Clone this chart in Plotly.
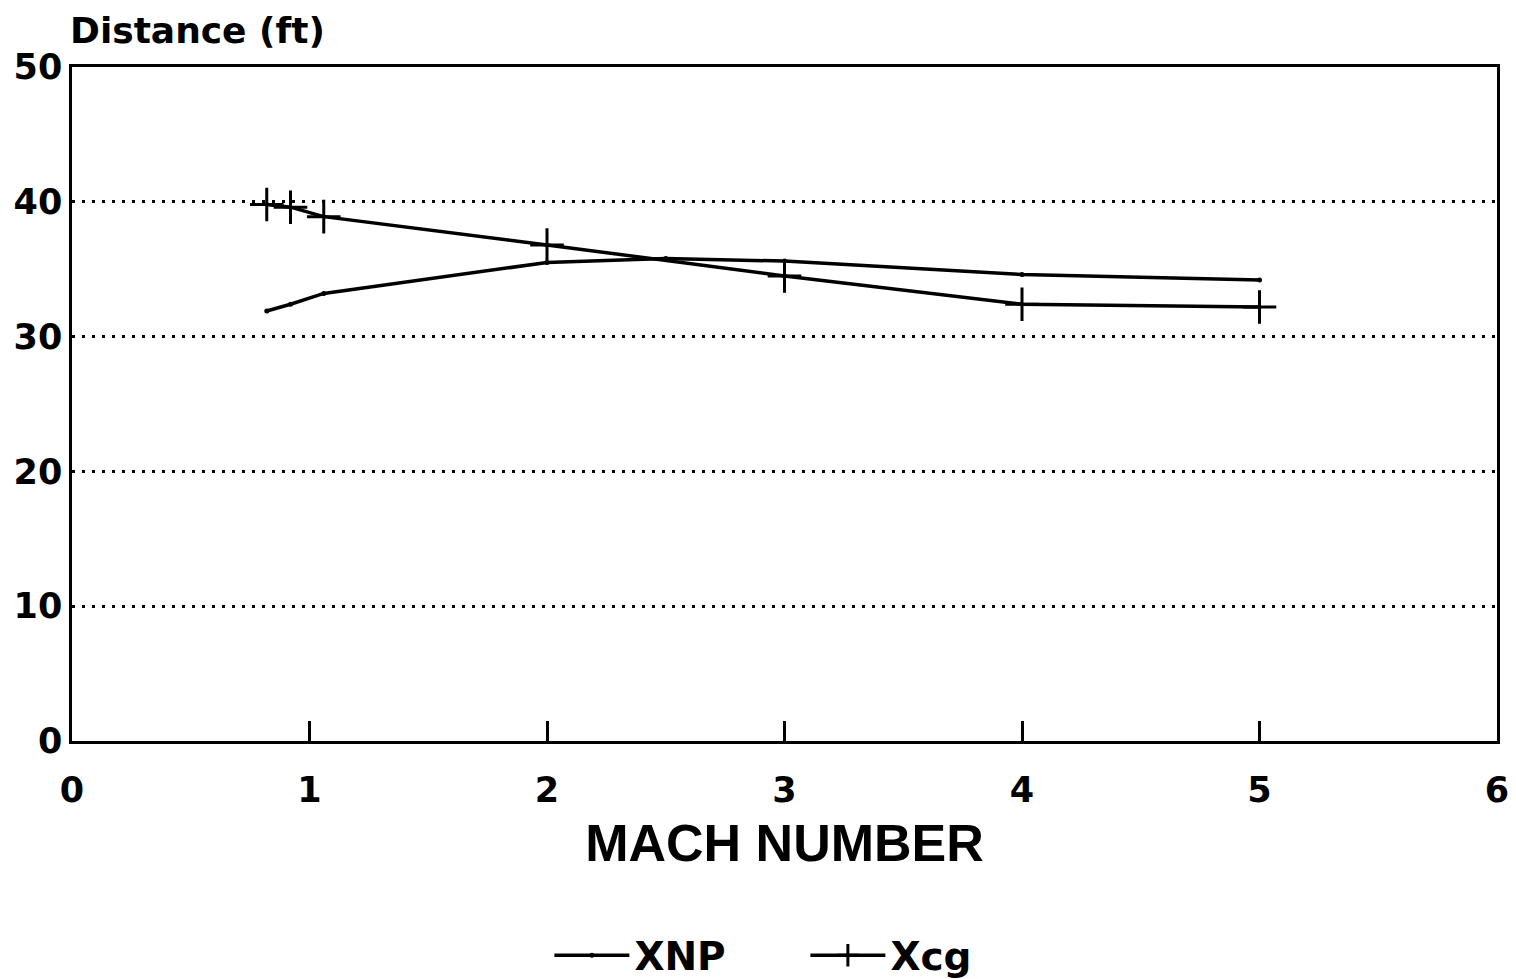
import plotly.graph_objects as go

# Data
mach_xnp = [0.82, 0.92, 1.06, 2.0, 2.5, 3.0, 4.0, 5.0]
xnp = [31.9, 32.4, 33.2, 35.5, 35.8, 35.6, 34.6, 34.2]

mach_xcg = [0.82, 0.92, 1.06, 2.0, 3.0, 4.0, 5.0]
xcg = [39.8, 39.6, 38.9, 36.8, 34.5, 32.4, 32.2]

x_ticks = [0, 1, 2, 3, 4, 5, 6]
y_ticks = [0, 10, 20, 30, 40, 50]

BOLD_TICK = dict(family="DejaVu Sans", size=35, color="black", weight="bold")

fig = go.Figure()
fig.add_trace(go.Scatter(
    x=mach_xnp, y=xnp, name="XNP", mode="lines+markers",
    line=dict(color="black", width=3.5),
    marker=dict(symbol="circle", size=5, color="black"),
))
fig.add_trace(go.Scatter(
    x=mach_xcg, y=xcg, name="Xcg", mode="lines+markers",
    line=dict(color="black", width=3.5),
    marker=dict(symbol="cross-thin", size=24, color="black",
                line=dict(color="black", width=3)),
))

# page body has an 8px default margin; margins are fixed so the plot area matches
fig.update_layout(
    width=1508, height=971,
    margin=dict(l=64, r=19, t=59, b=238, autoexpand=False),
    paper_bgcolor="white", plot_bgcolor="white",
    font=dict(family="Liberation Sans", color="black"),
    showlegend=True,
    legend=dict(orientation="h", x=0.335, xanchor="left", y=-0.318, yanchor="middle",
                font=dict(family="DejaVu Sans", size=39, color="black", weight="bold"),
                itemwidth=75, entrywidth=166, entrywidthmode="pixels", tracegroupgap=0),
    xaxis=dict(
        range=[0, 6], tickvals=x_ticks, ticktext=[str(v) for v in x_ticks],
        showgrid=False, zeroline=False, automargin=False,
        showline=True, linecolor="black", linewidth=2.5, mirror=True,
        ticks="inside", ticklen=20, tickwidth=2.5, tickcolor="black",
        tickfont=BOLD_TICK, ticklabelstandoff=16,
        title=dict(text="MACH NUMBER", standoff=16,
                   font=dict(family="Liberation Sans", size=52, color="black", weight="bold")),
    ),
    yaxis=dict(
        range=[0, 50], tickvals=y_ticks, ticktext=[str(v) for v in y_ticks],
        showgrid=True, gridcolor="black", gridwidth=3, griddash="3px,7px",
        zeroline=False, automargin=False,
        showline=True, linecolor="black", linewidth=2.5, mirror=True,
        ticks="", tickfont=BOLD_TICK, ticklabelstandoff=0,
    ),
    annotations=[dict(
        text="Distance (ft)", xref="paper", yref="paper", x=0, y=1,
        xanchor="left", yanchor="bottom", yshift=14, xshift=-4, showarrow=False,
        font=dict(family="DejaVu Sans", size=36, color="black", weight="bold"),
    )],
)

fig.write_html("out.html")
